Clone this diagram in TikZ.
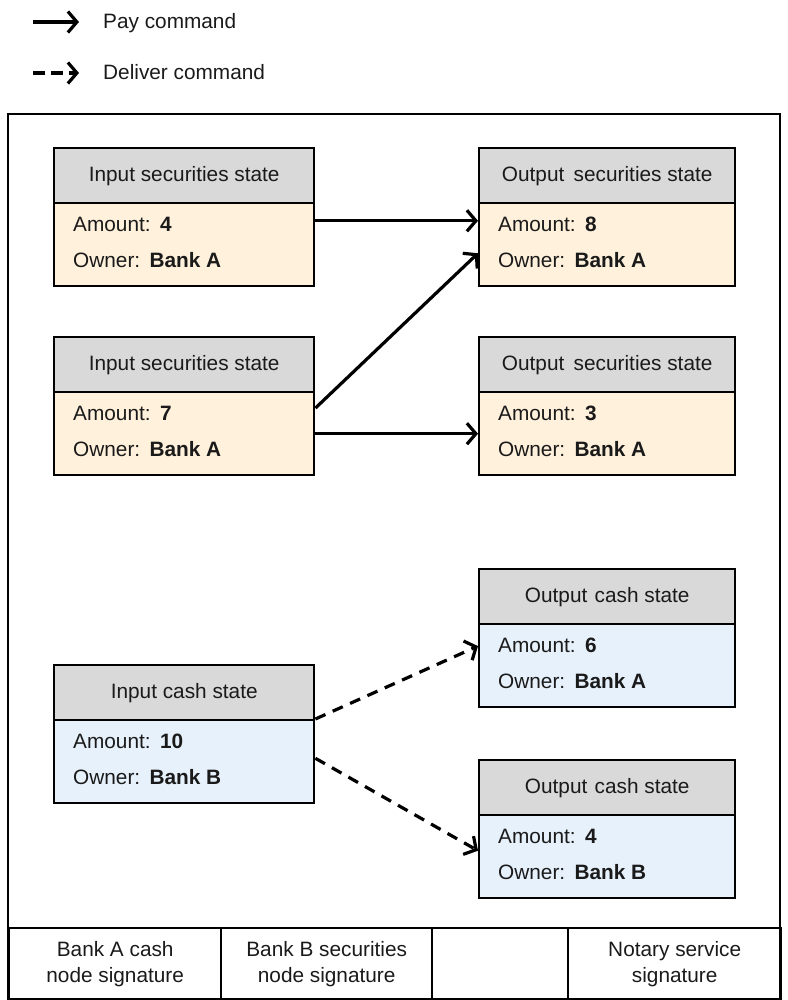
\documentclass[tikz,border=0pt]{standalone}
\usepackage{fontspec}
\setmainfont{Liberation Sans}
\usetikzlibrary{arrows.meta,calc}
\definecolor{hdrgray}{HTML}{D9D9D9}
\definecolor{secfill}{HTML}{FFF1DB}
\definecolor{cashfill}{HTML}{E7F1FB}
\definecolor{txt}{HTML}{1A1A1A}
\begin{document}
\begin{tikzpicture}[x=1pt,y=-1pt,
  font=\fontsize{20.8}{26}\selectfont,
  hdr/.style={draw, line width=2.4pt, fill=hdrgray, minimum height=55pt, anchor=north west, inner sep=0pt, text=txt},
  lbox/.style={minimum width=260pt},
  rbox/.style={minimum width=256pt},
  secbody/.style={draw, line width=2.4pt, fill=secfill, minimum height=83pt, anchor=north west, inner sep=0pt},
  cashbody/.style={draw, line width=2.4pt, fill=cashfill, minimum height=83pt, anchor=north west, inner sep=0pt},
  rowtxt/.style={anchor=mid west, inner sep=0pt, text=txt},
  cell/.style={draw, line width=2.4pt, minimum height=72pt, anchor=north west, inner sep=0pt, align=center, text=txt},
  arr/.style={line width=3.2pt, -{Straight Barb[length=9pt,width=21pt,line width=3.2pt]}},
  dasharr/.style={arr, dash pattern=on 11pt off 8pt},
]
\useasboundingbox (0,0) rectangle (787,1000);

% legend
\coordinate (l1a) at (33,22);
\coordinate (l1b) at (79,22);
\coordinate (l2a) at (33,73);
\coordinate (l2b) at (79,73);
\draw[arr] (l1a) -- (l1b);
\draw[arr, dash pattern=on 12pt off 6pt] (l2a) -- (l2b);
\node[rowtxt] (lt1) at (103,26) {Pay command};
\node[rowtxt] (lt2) at (103,77) {Deliver command};

% frame
\draw[line width=2.4pt] (8,114) rectangle (780,999);
\node[cell, minimum width=212pt] (c1) at (8,927) {Bank A cash\\node signature};
\node[cell, minimum width=211pt] (c2) at (220,927) {Bank B securities\\node signature};
\node[cell, minimum width=136pt] (c3) at (431,927) {};
\node[cell, minimum width=213pt] (c4) at (567,927) {Notary service\\signature};

% input securities 1
\node[hdr, lbox] (is1h) at (53,147) {Input securities state};
\node[secbody, lbox] (is1) at (53,202) {};
\node[rowtxt] (is1a) at ($(is1.north west)+(20,27)$) {Amount:\hspace{0.45em}\textbf{4}};
\node[rowtxt] (is1o) at ($(is1.north west)+(20,63)$) {Owner:\hspace{0.45em}\textbf{Bank A}};

% input securities 2
\node[hdr, lbox] (is2h) at (53,336) {Input securities state};
\node[secbody, lbox] (is2) at (53,391) {};
\node[rowtxt] (is2a) at ($(is2.north west)+(20,27)$) {Amount:\hspace{0.45em}\textbf{7}};
\node[rowtxt] (is2o) at ($(is2.north west)+(20,63)$) {Owner:\hspace{0.45em}\textbf{Bank A}};

% output securities 1
\node[hdr, rbox] (os1h) at (478,147) {Output\hspace{0.45em}securities state};
\node[secbody, rbox] (os1) at (478,202) {};
\node[rowtxt] (os1a) at ($(os1.north west)+(20,27)$) {Amount:\hspace{0.45em}\textbf{8}};
\node[rowtxt] (os1o) at ($(os1.north west)+(20,63)$) {Owner:\hspace{0.45em}\textbf{Bank A}};

% output securities 2
\node[hdr, rbox] (os2h) at (478,336) {Output\hspace{0.45em}securities state};
\node[secbody, rbox] (os2) at (478,391) {};
\node[rowtxt] (os2a) at ($(os2.north west)+(20,27)$) {Amount:\hspace{0.45em}\textbf{3}};
\node[rowtxt] (os2o) at ($(os2.north west)+(20,63)$) {Owner:\hspace{0.45em}\textbf{Bank A}};

% input cash
\node[hdr, lbox] (ich) at (53,664) {Input cash state};
\node[cashbody, lbox] (ic) at (53,719) {};
\node[rowtxt] (ica) at ($(ic.north west)+(20,27)$) {Amount:\hspace{0.45em}\textbf{10}};
\node[rowtxt] (ico) at ($(ic.north west)+(20,63)$) {Owner:\hspace{0.45em}\textbf{Bank B}};

% output cash 1
\node[hdr, rbox] (oc1h) at (478,568) {Output\hspace{0.35em}cash state};
\node[cashbody, rbox] (oc1) at (478,623) {};
\node[rowtxt] (oc1a) at ($(oc1.north west)+(20,27)$) {Amount:\hspace{0.45em}\textbf{6}};
\node[rowtxt] (oc1o) at ($(oc1.north west)+(20,63)$) {Owner:\hspace{0.45em}\textbf{Bank A}};

% output cash 2
\node[hdr, rbox] (oc2h) at (478,759) {Output\hspace{0.35em}cash state};
\node[cashbody, rbox] (oc2) at (478,814) {};
\node[rowtxt] (oc2a) at ($(oc2.north west)+(20,27)$) {Amount:\hspace{0.45em}\textbf{4}};
\node[rowtxt] (oc2o) at ($(oc2.north west)+(20,63)$) {Owner:\hspace{0.45em}\textbf{Bank B}};

% pay arrows
\draw[arr] ($(is1.north east)!0.22!(is1.south east)$) -- ($(os1.north west)!0.22!(os1.south west)$);
\draw[arr] ($(is2.north east)!0.2!(is2.south east)$) -- ($(os1.north west)!0.6!(os1.south west)$);
\draw[arr] (is2.east) -- (os2.west);

% deliver arrows
\draw[dasharr] ($(ic.north east)!0.0!(ic.south east)$) -- ($(oc1.north west)!0.27!(oc1.south west)$);
\draw[dasharr] ($(ic.north east)!0.46!(ic.south east)$) -- ($(oc2.north west)!0.43!(oc2.south west)$);
\end{tikzpicture}
\end{document}
